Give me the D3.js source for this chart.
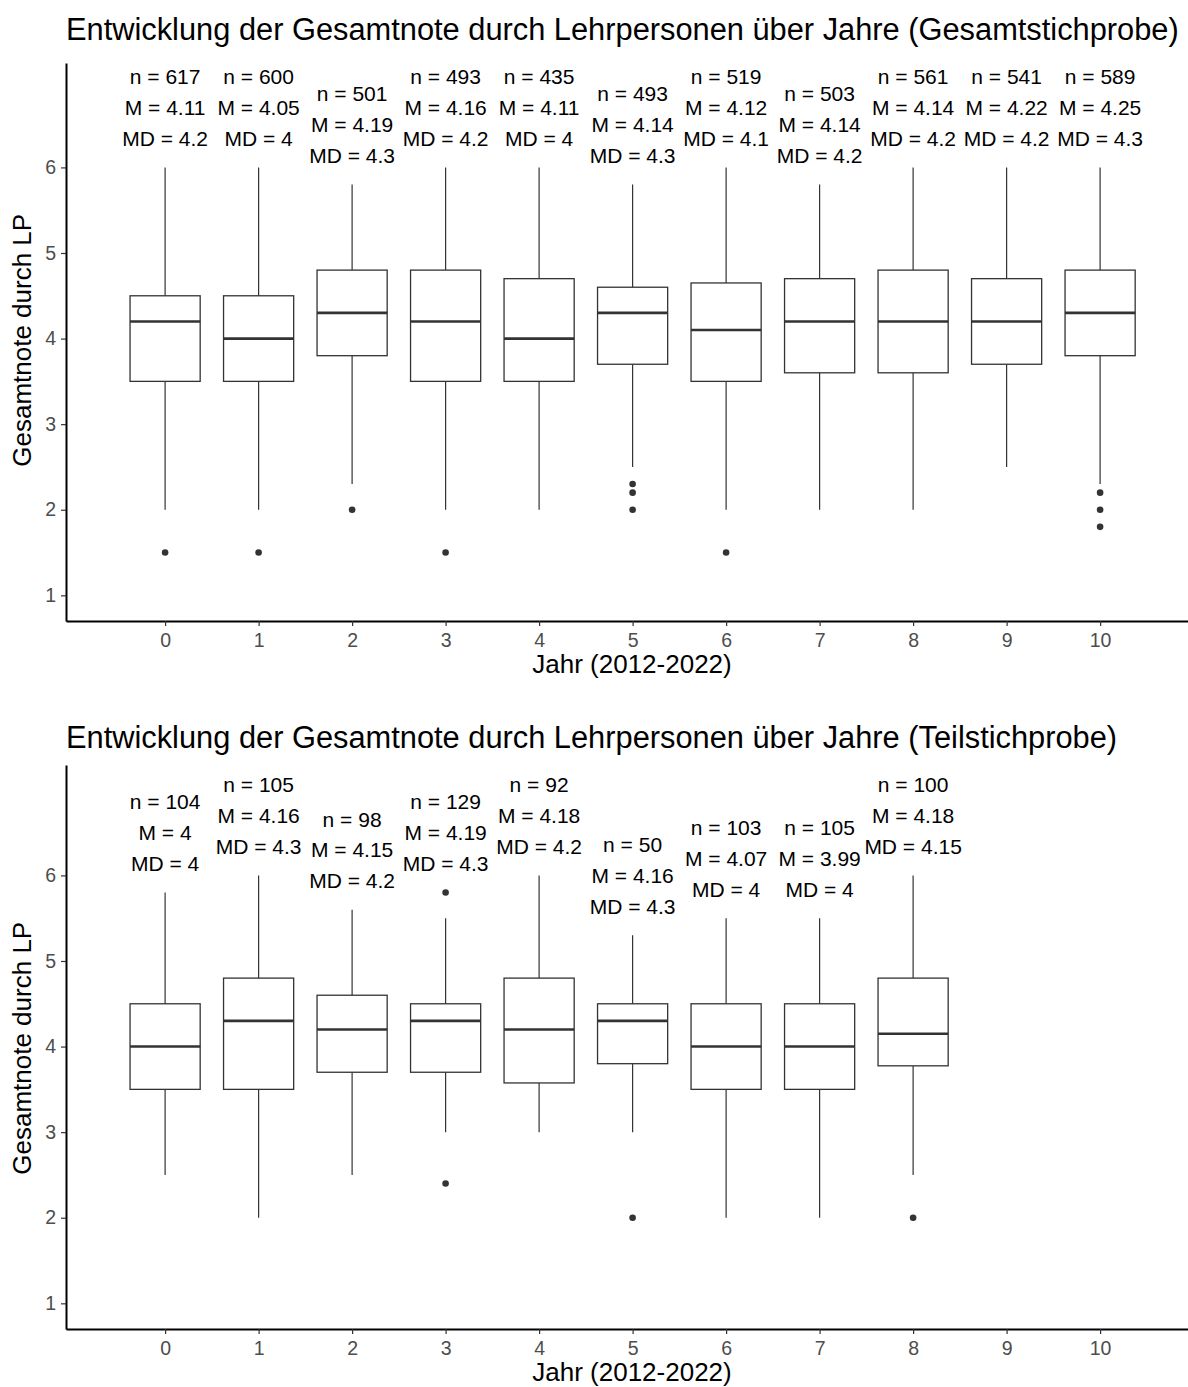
<!DOCTYPE html>
<html>
<head>
<meta charset="utf-8">
<script src="https://cdn.jsdelivr.net/npm/d3@7"></script>
<style>
  body { margin: 0; background: #fff; }
  svg { display: block; font-family: "Liberation Sans", Arial, sans-serif; }
</style>
</head>
<body>
<svg id="chart" width="1188" height="1387"></svg>
<script>
// Gesamtnote durch Lehrpersonen, Boxplots pro Jahr (0 = 2012 ... 10 = 2022)

const xTicks = [0, 1, 2, 3, 4, 5, 6, 7, 8, 9, 10];
const yTicks = [1, 2, 3, 4, 5, 6];

// Gesamtstichprobe
const gesamtYears  = [0, 1, 2, 3, 4, 5, 6, 7, 8, 9, 10];
const gesamtN      = [617, 600, 501, 493, 435, 493, 519, 503, 561, 541, 589];
const gesamtMean   = [4.11, 4.05, 4.19, 4.16, 4.11, 4.14, 4.12, 4.14, 4.14, 4.22, 4.25];
const gesamtMedian = [4.2, 4, 4.3, 4.2, 4, 4.3, 4.1, 4.2, 4.2, 4.2, 4.3];
const gesamtQ1     = [3.5, 3.5, 3.8, 3.5, 3.5, 3.7, 3.5, 3.6, 3.6, 3.7, 3.8];
const gesamtQ3     = [4.5, 4.5, 4.8, 4.8, 4.7, 4.6, 4.65, 4.7, 4.8, 4.7, 4.8];
const gesamtLow    = [2, 2, 2.3, 2, 2, 2.5, 2, 2, 2, 2.5, 2.3];
const gesamtHigh   = [6, 6, 5.8, 6, 6, 5.8, 6, 5.8, 6, 6, 6];
const gesamtOut    = [[1.5], [1.5], [2], [1.5], [], [2.3, 2.2, 2], [1.5], [], [], [], [2.2, 2, 1.8]];

// Teilstichprobe
const teilYears  = [0, 1, 2, 3, 4, 5, 6, 7, 8];
const teilN      = [104, 105, 98, 129, 92, 50, 103, 105, 100];
const teilMean   = [4, 4.16, 4.15, 4.19, 4.18, 4.16, 4.07, 3.99, 4.18];
const teilMedian = [4, 4.3, 4.2, 4.3, 4.2, 4.3, 4, 4, 4.15];
const teilQ1     = [3.5, 3.5, 3.7, 3.7, 3.575, 3.8, 3.5, 3.5, 3.775];
const teilQ3     = [4.5, 4.8, 4.6, 4.5, 4.8, 4.5, 4.5, 4.5, 4.8];
const teilLow    = [2.5, 2, 2.5, 3, 3, 3, 2, 2, 2.5];
const teilHigh   = [5.8, 6, 5.6, 5.5, 6, 5.3, 5.5, 5.5, 6];
const teilOut    = [[], [], [], [5.8, 2.4], [], [2], [], [], [2]];

const svg = d3.select("#chart");

function drawPanel(opt) {
    const g = svg.append("g");

    const x = d3.scaleLinear().domain([-1.06, 10.94]).range([66, 1188]);
    const y = d3.scaleLinear().domain(opt.yDomain).range([opt.bottom, opt.top]);
    const boxW = x(0.375) - x(0);

    const rows = opt.years.map((yr, i) => ({
        year: yr, n: opt.n[i], mean: opt.mean[i], median: opt.median[i],
        q1: opt.q1[i], q3: opt.q3[i], low: opt.low[i], high: opt.high[i],
        out: opt.out[i]
    }));

    // Titel
    g.append("text")
        .attr("x", 66)
        .attr("y", opt.titleY)
        .attr("font-size", "30.8px")
        .attr("fill", "#000")
        .text(opt.title);

    // Whisker
    const box = g.selectAll(".box").data(rows).enter().append("g").attr("class", "box");
    box.append("line")
        .attr("x1", d => x(d.year)).attr("x2", d => x(d.year))
        .attr("y1", d => y(d.q3)).attr("y2", d => y(d.high))
        .attr("stroke", "#333").attr("stroke-width", 1.2);
    box.append("line")
        .attr("x1", d => x(d.year)).attr("x2", d => x(d.year))
        .attr("y1", d => y(d.q1)).attr("y2", d => y(d.low))
        .attr("stroke", "#333").attr("stroke-width", 1.2);

    // Box
    box.append("rect")
        .attr("x", d => x(d.year) - boxW)
        .attr("width", boxW * 2)
        .attr("y", d => y(d.q3))
        .attr("height", d => y(d.q1) - y(d.q3))
        .attr("fill", "#fff")
        .attr("stroke", "#333")
        .attr("stroke-width", 1.3);

    // Median
    box.append("line")
        .attr("x1", d => x(d.year) - boxW).attr("x2", d => x(d.year) + boxW)
        .attr("y1", d => y(d.median)).attr("y2", d => y(d.median))
        .attr("stroke", "#333").attr("stroke-width", 2.6);

    // Ausreisser
    box.selectAll(".outlier")
        .data(d => d.out.map(v => ({year: d.year, v: v})))
        .enter().append("circle")
        .attr("class", "outlier")
        .attr("cx", d => x(d.year))
        .attr("cy", d => y(d.v))
        .attr("r", 3.3)
        .attr("fill", "#333");

    // Beschriftung n / M / MD ueber dem hoechsten Wert
    box.each(function(d) {
        const top = d3.max([d.high].concat(d.out));
        const lines = ["n = " + d.n, "M = " + d.mean, "MD = " + d.median];
        d3.select(this).selectAll(".lab")
            .data(lines)
            .enter().append("text")
            .attr("class", "lab")
            .attr("x", x(d.year))
            .attr("y", (t, k) => y(top) - 21.5 - (2 - k) * 30.8)
            .attr("text-anchor", "middle")
            .attr("font-size", "21px")
            .attr("fill", "#000")
            .text(t => t);
    });

    // Achsen
    const yAxis = g.append("g")
        .attr("transform", "translate(66,0)")
        .call(d3.axisLeft(y).tickValues(yTicks).tickFormat(d3.format("d"))
            .tickSize(5).tickSizeOuter(0).tickPadding(5));
    const xAxis = g.append("g")
        .attr("transform", `translate(0,${opt.bottom})`)
        .call(d3.axisBottom(x).tickValues(xTicks).tickFormat(d3.format("d"))
            .tickSize(5).tickSizeOuter(0).tickPadding(7));

    [yAxis, xAxis].forEach(a => {
        a.select(".domain").attr("stroke", "#000").attr("stroke-width", 2);
        a.selectAll(".tick line").attr("stroke", "#333").attr("stroke-width", 1.2);
        a.selectAll(".tick text")
            .attr("fill", "#4d4d4d")
            .attr("font-size", "19.5px")
            .attr("font-family", "Liberation Sans, Arial, sans-serif");
    });

    g.append("text")
        .attr("x", 632)
        .attr("y", opt.bottom + 52)
        .attr("text-anchor", "middle")
        .attr("font-size", "26px")
        .attr("fill", "#000")
        .text("Jahr (2012-2022)");

    g.append("text")
        .attr("transform", `translate(31,${y(3.98)}) rotate(-90)`)
        .attr("text-anchor", "middle")
        .attr("font-size", "26px")
        .attr("fill", "#000")
        .text("Gesamtnote durch LP");
}

drawPanel({
    title: "Entwicklung der Gesamtnote durch Lehrpersonen über Jahre (Gesamtstichprobe)",
    titleY: 40, top: 63, bottom: 621, yDomain: [0.7, 7.22],
    years: gesamtYears, n: gesamtN, mean: gesamtMean, median: gesamtMedian,
    q1: gesamtQ1, q3: gesamtQ3, low: gesamtLow, high: gesamtHigh, out: gesamtOut
});

drawPanel({
    title: "Entwicklung der Gesamtnote durch Lehrpersonen über Jahre (Teilstichprobe)",
    titleY: 748, top: 765, bottom: 1329, yDomain: [0.7, 7.29],
    years: teilYears, n: teilN, mean: teilMean, median: teilMedian,
    q1: teilQ1, q3: teilQ3, low: teilLow, high: teilHigh, out: teilOut
});
</script>
</body>
</html>
